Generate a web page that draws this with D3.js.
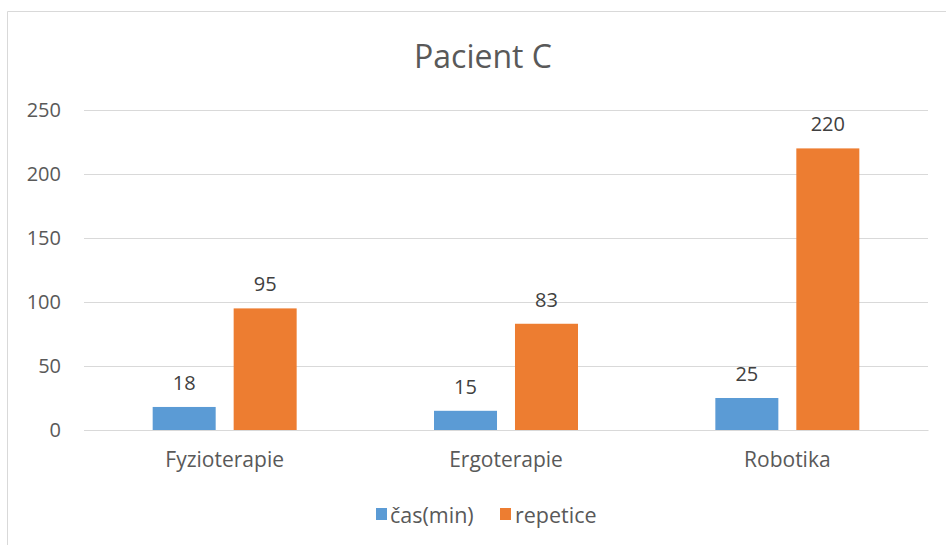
<!DOCTYPE html>
<html><head><meta charset="utf-8">
<script src="https://cdn.jsdelivr.net/npm/d3@7"></script>
<style>html,body{margin:0;padding:0;background:#fff;}svg{display:block;font-family:"Open Sans",sans-serif;}</style>
</head><body>
<script>
const title = "Pacient C";
const categories = ["Fyzioterapie", "Ergoterapie", "Robotika"];
const seriesNames = ["čas(min)", "repetice"];
const casMin = [18, 15, 25];
const repetice = [95, 83, 220];
const yTicks = [0, 50, 100, 150, 200, 250];
const colors = ["#5B9BD5", "#ED7D31"];

const W = 946, H = 545;
const svg = d3.select("body").append("svg").attr("width", W).attr("height", H);
svg.append("rect").attr("width", W).attr("height", H).attr("fill", "#fff");
// chart border
svg.append("path").attr("d", `M7.5,${H+2} V11.5 H${W+2}`).attr("fill", "none").attr("stroke", "#d9d9d9").attr("stroke-width", 1);

const plot = {left: 84, right: 928, top: 110, bottom: 430};
const y = d3.scaleLinear().domain([0, 250]).range([plot.bottom, plot.top]);
const x0 = d3.scaleBand().domain(categories).range([plot.left, plot.right]).padding(0);
const x1 = d3.scaleBand().domain(seriesNames).range([0, x0.bandwidth()]).paddingInner(0.222).paddingOuter(0.848);

svg.append("text").attr("x", 483).attr("y", 68).attr("text-anchor", "middle")
  .attr("font-size", 32).attr("fill", "#595959").text(title);

// gridlines
const yAxis = d3.axisLeft(y).tickValues(yTicks).tickSize(-(plot.right - plot.left)).tickPadding(23);
const gy = svg.append("g").attr("transform", `translate(${plot.left},0)`).call(yAxis);
gy.select(".domain").remove();
gy.selectAll(".tick line").attr("stroke", "#d9d9d9").attr("stroke-width", 1);
gy.selectAll(".tick text").attr("font-size", 20).attr("fill", "#595959").attr("font-family", "Open Sans, sans-serif");

const xAxis = d3.axisBottom(x0).tickSize(0).tickPadding(22);
const gx = svg.append("g").attr("transform", `translate(0,${plot.bottom})`).call(xAxis);
gx.select(".domain").attr("stroke", "#d9d9d9");
gx.selectAll(".tick text").attr("font-size", 21).attr("fill", "#595959").attr("font-family", "Open Sans, sans-serif");

const data = categories.map((c, i) => ({cat: c, vals: [casMin[i], repetice[i]]}));
const groups = svg.append("g").selectAll("g").data(data).join("g")
  .attr("transform", d => `translate(${x0(d.cat)},0)`);
groups.selectAll("rect").data(d => d.vals.map((v, j) => ({s: seriesNames[j], v, j}))).join("rect")
  .attr("x", d => x1(d.s)).attr("width", x1.bandwidth())
  .attr("y", d => y(d.v)).attr("height", d => y(0) - y(d.v))
  .attr("fill", d => colors[d.j]);
groups.selectAll("text.lbl").data(d => d.vals.map((v, j) => ({s: seriesNames[j], v, j}))).join("text")
  .attr("class", "lbl")
  .attr("x", d => x1(d.s) + x1.bandwidth() / 2).attr("y", d => y(d.v) - 17)
  .attr("text-anchor", "middle").attr("font-size", 20).attr("fill", "#404040").text(d => d.v);

// legend
const legend = svg.append("g");
const legendItems = [{x: 376, tx: 390}, {x: 500, tx: 515}];
seriesNames.forEach((s, i) => {
  legend.append("rect").attr("x", legendItems[i].x).attr("y", 508).attr("width", 11).attr("height", 12).attr("fill", colors[i]);
  legend.append("text").attr("x", legendItems[i].tx).attr("y", 523).attr("font-size", 21.5).attr("fill", "#595959").text(s);
});
</script>
</body></html>
